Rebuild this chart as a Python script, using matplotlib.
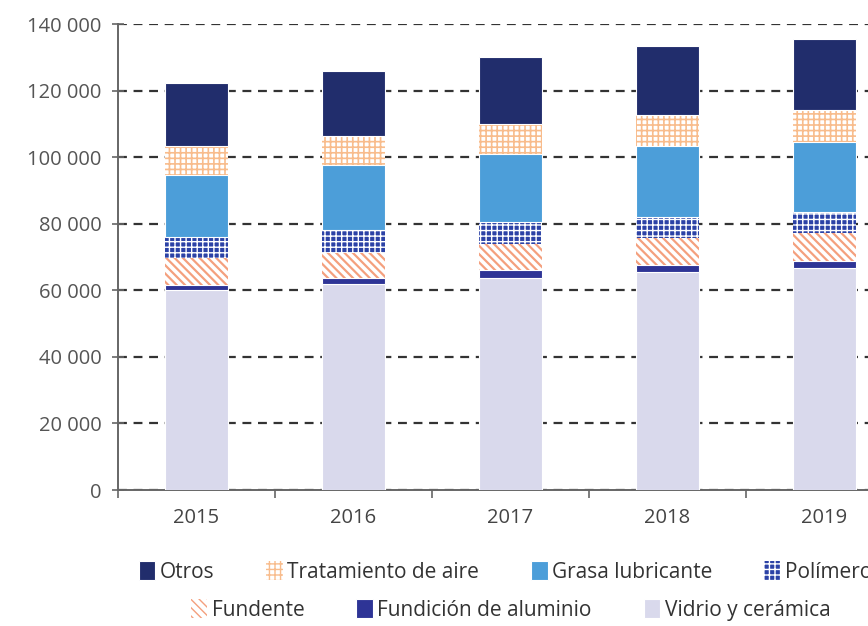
import matplotlib
matplotlib.use("Agg")
import matplotlib.pyplot as plt
import numpy as np

years = ["2015", "2016", "2017", "2018", "2019"]
vidrio = [60000, 62000, 63600, 65400, 66600]
fundicion = [1700, 1600, 2400, 2200, 2300]
fundente = [7900, 7700, 7900, 8000, 8200]
polimeros = [6500, 6800, 6700, 6500, 6500]
grasa = [18500, 19500, 20200, 21200, 21000]
tratamiento = [8700, 8700, 9100, 9400, 9500]
otros = [19000, 19600, 20100, 20800, 21300]

series_names = ["Vidrio y cerámica", "Fundición de aluminio", "Fundente", "Polímeros",
                "Grasa lubricante", "Tratamiento de aire", "Otros"]
yticks = [0, 20000, 40000, 60000, 80000, 100000, 120000, 140000]
ytick_labels = ["0", "20 000", "40 000", "60 000", "80 000", "100 000", "120 000", "140 000"]

plt.rcParams['font.family'] = ['Open Sans', 'DejaVu Sans']

W, H = 868, 626
fig = plt.figure(figsize=(W / 100, H / 100), dpi=100)
left, right_px, top_px, bottom_px = 118, 903, 24, 490
ax = fig.add_axes([left / W, 1 - bottom_px / H, (right_px - left) / W, (bottom_px - top_px) / H])

x = np.arange(len(years))
bw = 0.40
styles = [
    dict(facecolor="#D9D9EC", edgecolor="white", hatch=None, lw=0.8, hlw=1.0),
    dict(facecolor="#2E3496", edgecolor="white", hatch=None, lw=0.8, hlw=1.0),
    dict(facecolor="white", edgecolor="#F4A07E", hatch="\\\\\\\\", lw=0, hlw=1.6),
    dict(facecolor="#2C42A6", edgecolor="white", hatch="+++", lw=0, hlw=1.0),
    dict(facecolor="#4C9ED9", edgecolor="white", hatch=None, lw=0.8, hlw=1.0),
    dict(facecolor="white", edgecolor="#F8BC8C", hatch="+++", lw=0, hlw=1.2),
    dict(facecolor="#212D6C", edgecolor="white", hatch=None, lw=0.8, hlw=1.0),
]
data = [vidrio, fundicion, fundente, polimeros, grasa, tratamiento, otros]
bottom = np.zeros(len(years))
handles = {}
for name, vals, st in zip(series_names, data, styles):
    with plt.rc_context({'hatch.linewidth': st['hlw']}):
        b = ax.bar(x, vals, bw, bottom=bottom, facecolor=st['facecolor'],
                   edgecolor=st['edgecolor'], hatch=st['hatch'], linewidth=st['lw'],
                   label=name, zorder=3)
    handles[name] = b
    bottom += np.array(vals)

ax.set_ylim(0, 140000)
ax.set_xlim(-0.5, 4.5)
ax.set_yticks(yticks)
ax.set_yticklabels(ytick_labels)
ax.yaxis.grid(True, linestyle=(0, (4, 3)), color="#333333", linewidth=1.6, zorder=1)
ax.set_axisbelow(True)
ax.set_xticks(x)
ax.set_xticklabels(years)
ax.set_xticks(np.arange(-0.5, 5.0, 1.0), minor=True)
ax.tick_params(axis='x', which='major', length=0, pad=13, labelsize=14.5, labelcolor="#444444")
ax.tick_params(axis='x', which='minor', length=6, direction='out', color="#666666", width=1.2)
ax.tick_params(axis='y', length=8, direction='inout', color="#666666", width=1.2,
               labelsize=14.5, labelcolor="#555555", pad=8)
for s in ['top', 'right']:
    ax.spines[s].set_visible(False)
for s in ['left', 'bottom']:
    ax.spines[s].set_color("#666666")
    ax.spines[s].set_linewidth(1.4)

cx = ((left + right_px) / 2) / W
row1 = ["Otros", "Tratamiento de aire", "Grasa lubricante", "Polímeros"]
row2 = ["Fundente", "Fundición de aluminio", "Vidrio y cerámica"]
leg_kw = dict(frameon=False, fontsize=15, handlelength=0.8, handleheight=1.0,
              handletextpad=0.2, columnspacing=2.5, labelcolor="#333333", borderpad=0)
leg1 = fig.legend([handles[n] for n in row1], row1, loc='center', ncol=4,
                  bbox_to_anchor=(cx, 1 - 572 / H), **leg_kw)
leg2 = fig.legend([handles[n] for n in row2], row2, loc='center', ncol=3,
                  bbox_to_anchor=(cx, 1 - 610 / H), **leg_kw)

fig.savefig("out.png", dpi=100)
